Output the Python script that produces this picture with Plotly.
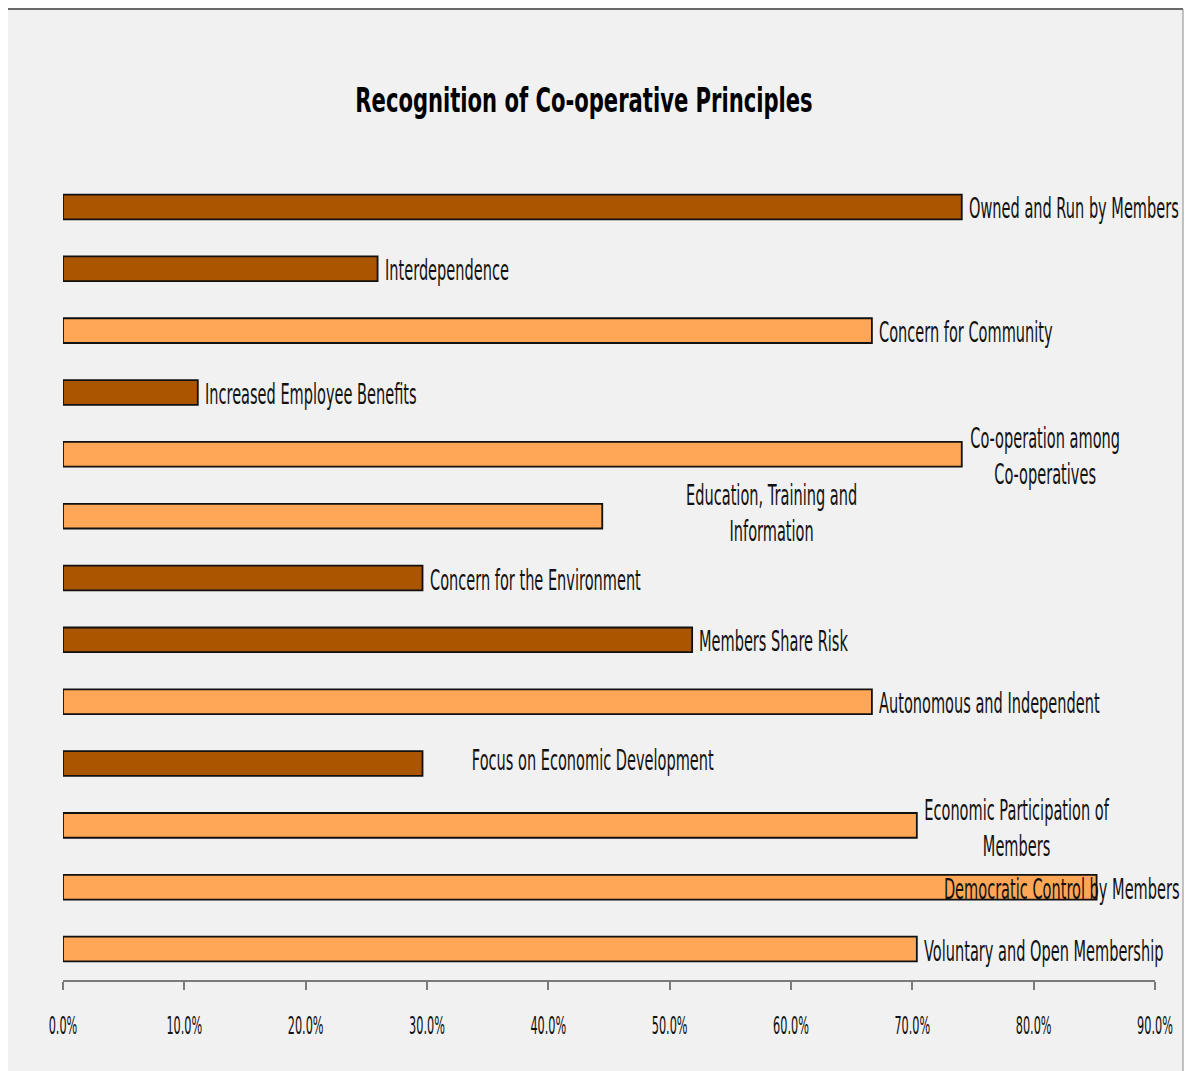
import plotly.graph_objects as go

# Survey results: share of respondents recognising each principle (n = 27)
principles = [
    "Owned and Run by Members",
    "Interdependence",
    "Concern for Community",
    "Increased Employee Benefits",
    "Co-operation among<br>Co-operatives",
    "Education, Training and<br>Information",
    "Concern for the Environment",
    "Members Share Risk",
    "Autonomous and Independent",
    "Focus on Economic Development",
    "Economic Participation of<br>Members",
    "Democratic Control by Members",
    "Voluntary and Open Membership",
]
share = [
    20 / 27, 7 / 27, 18 / 27, 3 / 27, 20 / 27, 12 / 27, 8 / 27,
    14 / 27, 18 / 27, 8 / 27, 19 / 27, 23 / 27, 19 / 27,
]
# True for the official ICA principles (light), False for other answers (dark)
official = [
    False, False, True, False, True, True, False,
    False, True, False, True, True, True,
]
x_ticks = [0.0, 0.1, 0.2, 0.3, 0.4, 0.5, 0.6, 0.7, 0.8, 0.9]

LIGHT = "#FFA756"
DARK = "#AA5500"
FONT = "DejaVu Sans"

W, H = 1185, 1071
L, R, T, B = 63, 30, 176, 91

fig = go.Figure()
fig.add_trace(go.Bar(
    x=share,
    y=list(range(len(principles))),
    orientation="h",
    width=0.4,
    marker=dict(
        color=[LIGHT if o else DARK for o in official],
        line=dict(color="#111111", width=1.8),
    ),
    hoverinfo="skip",
))

# label placement: (anchor, x pixel shift from bar end, y pixel shift)
placement = {
    4: ("center", 83, -2),
    5: ("center", 169, 3),
    9: ("center", 170, 3),
    10: ("center", 100, -3),
    11: ("center", -35, -2),
}
for i, (name, v) in enumerate(zip(principles, share)):
    anchor, dx, dy = placement.get(i, ("left", 5, -2))
    fig.add_annotation(
        x=v, y=i, xref="x", yref="y",
        text=name, showarrow=False,
        xanchor=anchor, yanchor="middle", align=anchor,
        xshift=dx, yshift=dy,
        font=dict(family=FONT, size=28, color="#111111"),
    )

# panel background and its border
pw, ph = W - L - R, H - T - B
def px(xp):
    return (xp - L) / pw
def py(yp):
    return 1 - (yp - T) / ph

fig.add_shape(type="rect", xref="paper", yref="paper", layer="below",
              x0=px(8), x1=px(1183), y0=py(1071), y1=py(9),
              fillcolor="#F1F1F1", line=dict(width=0))
fig.add_shape(type="line", xref="paper", yref="paper", layer="below",
              x0=px(8), x1=px(1183), y0=py(9), y1=py(9),
              line=dict(color="#6A6A6A", width=2))
fig.add_shape(type="line", xref="paper", yref="paper", layer="below",
              x0=px(1183), x1=px(1183), y0=py(9), y1=py(1071),
              line=dict(color="#8A8A8A", width=1))

fig.update_layout(
    width=W, height=H,
    margin=dict(l=L, r=R, t=T, b=B),
    paper_bgcolor="white",
    plot_bgcolor="rgba(0,0,0,0)",
    showlegend=False,
    title=dict(
        text="<b>Recognition of Co-operative Principles</b>",
        x=584 / W, xanchor="center",
        y=1 - 100 / H, yanchor="middle", yref="container",
        font=dict(family=FONT, size=33, color="black"),
    ),
    xaxis=dict(
        range=[0, 0.9],
        tickvals=x_ticks,
        tickformat=".1%",
        automargin=False,
        ticklabeloverflow="allow",
        showgrid=False, zeroline=False,
        showline=True, linecolor="#7A7A7A", linewidth=1.5,
        ticks="outside", ticklen=8, tickcolor="#7A7A7A", tickwidth=1.5,
        ticklabelstandoff=15,
        tickfont=dict(family=FONT, size=24, color="#111111"),
        fixedrange=True,
    ),
    yaxis=dict(
        range=[12.5, -0.5],
        automargin=False,
        showticklabels=False, showgrid=False, zeroline=False,
        showline=False, ticks="",
        fixedrange=True,
    ),
)

# narrow the lettering horizontally, each text around its own anchor point
squeeze_js = """
var gd = document.getElementById('{plot_id}');
function squeeze(sel, s) {
  gd.querySelectorAll(sel).forEach(function (el) {
    var x = parseFloat(el.getAttribute('x')) || 0;
    var t = el.getAttribute('transform') || '';
    el.setAttribute('transform', t + ' translate(' + x + ',0) scale(' + s + ',1) translate(' + (-x) + ',0)');
  });
}
squeeze('text.annotation-text', 0.52);
squeeze('text.gtitle', 0.64);
squeeze('g.xtick text', 0.47);
"""

fig.write_html("out.html", post_script=squeeze_js)
